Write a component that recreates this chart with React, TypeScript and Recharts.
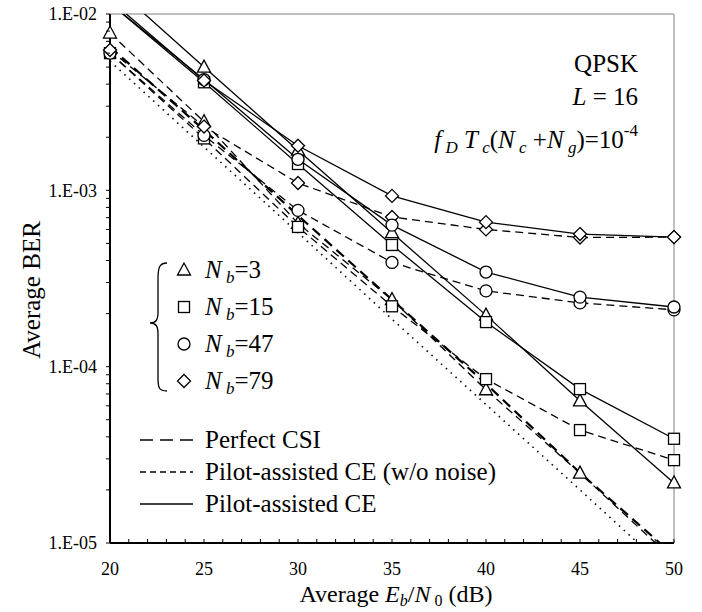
import React from "react";
import { LineChart, Line, XAxis, YAxis, ReferenceLine } from "recharts";

// Eb/N0 points (dB)
const ebN0 = [20, 25, 30, 35, 40, 45, 50];

// unmarked reference curves
const perfectCsi = [6.5e-3, 2.2e-3, 7.2e-4, 2.4e-4, 8.0e-5, 2.5e-5, 8.5e-6];
const perfectCsiLow = [5.4e-3, 1.76e-3, 5.75e-4, 1.86e-4, 6.1e-5, 2.0e-5, 6.5e-6];

// pilot-assisted CE (w/o noise), dashed with markers
const noNoiseNb3 = [7.8e-3, 2.45e-3, 6.5e-4, 2.4e-4, 7.4e-5, 2.49e-5, 8.0e-6];
const noNoiseNb15 = [6.0e-3, 1.97e-3, 6.2e-4, 2.2e-4, 8.5e-5, 4.37e-5, 2.95e-5];
const noNoiseNb47 = [6.0e-3, 2.05e-3, 7.7e-4, 3.9e-4, 2.69e-4, 2.3e-4, 2.1e-4];
const noNoiseNb79 = [6.25e-3, 2.3e-3, 1.1e-3, 7.06e-4, 6.0e-4, 5.4e-4, 5.43e-4];

// pilot-assisted CE, solid with markers
const ceNb3 = [1.5e-2, 5.0e-3, 1.69e-3, 5.75e-4, 1.96e-4, 6.4e-5, 2.19e-5];
const ceNb15 = [1.15e-2, 4.1e-3, 1.41e-3, 4.9e-4, 1.79e-4, 7.46e-5, 3.9e-5];
const ceNb47 = [1.15e-2, 4.25e-3, 1.5e-3, 6.35e-4, 3.44e-4, 2.48e-4, 2.18e-4];
const ceNb79 = [1.2e-2, 4.2e-3, 1.79e-3, 9.3e-4, 6.6e-4, 5.65e-4, 5.43e-4];

// ticks
const xTicks = [20, 21, 22, 23, 24, 25, 26, 27, 28, 29, 30, 31, 32, 33, 34, 35, 36, 37, 38, 39, 40, 41, 42, 43, 44, 45, 46, 47, 48, 49, 50];
const xMajorTicks = [20, 25, 30, 35, 40, 45, 50];
const xTickLabels = ["20", "25", "30", "35", "40", "45", "50"];
const yDecades = [1e-5, 1e-4, 1e-3, 1e-2];
const yDecadeLabels = ["1.E-05", "1.E-04", "1.E-03", "1.E-02"];
const yMinorSteps = [2, 3, 4, 5, 6, 7, 8, 9];

const yTicks: number[] = [];
yDecades.forEach((d, i) => {
  yTicks.push(d);
  if (i < yDecades.length - 1) yMinorSteps.forEach((m) => yTicks.push(d * m));
});

const data = ebN0.map((x, i) => ({
  x,
  perfect: perfectCsi[i],
  perfectLow: perfectCsiLow[i],
  nn3: noNoiseNb3[i],
  nn15: noNoiseNb15[i],
  nn47: noNoiseNb47[i],
  nn79: noNoiseNb79[i],
  ce3: ceNb3[i],
  ce15: ceNb15[i],
  ce47: ceNb47[i],
  ce79: ceNb79[i],
}));

const FONT = "'Liberation Serif', 'Times New Roman', Tinos, 'DejaVu Serif', serif";
const txt = { fontFamily: FONT, fill: "#000" } as React.CSSProperties;
const SW = 1.3;

type Shape = "triangle" | "square" | "circle" | "diamond";

const Marker = ({ shape, cx, cy }: { shape: Shape; cx: number; cy: number }) => {
  const p = { fill: "#fff", stroke: "#000", strokeWidth: SW };
  switch (shape) {
    case "triangle":
      return <polygon {...p} points={`${cx},${cy - 7} ${cx - 6.5},${cy + 5} ${cx + 6.5},${cy + 5}`} />;
    case "square":
      return <rect {...p} x={cx - 5.5} y={cy - 5.5} width={11} height={11} />;
    case "circle":
      return <circle {...p} cx={cx} cy={cy} r={6} />;
    default:
      return <polygon {...p} points={`${cx},${cy - 6.5} ${cx + 6.5},${cy} ${cx},${cy + 6.5} ${cx - 6.5},${cy}`} />;
  }
};

const markerDot = (shape: Shape) => (props: any) => {
  const { cx, cy, value, index } = props;
  const key = `${shape}-${index}`;
  if (cx == null || cy == null || value > 1.0001e-2 || value < 0.9999e-5) return <g key={key} />;
  return (
    <g key={key}>
      <Marker shape={shape} cx={cx} cy={cy} />
    </g>
  );
};

const XTick = (props: any) => {
  const { x, y, payload } = props;
  const idx = xMajorTicks.indexOf(payload.value);
  return (
    <g>
      <line x1={x} x2={x} y1={y} y2={y - 4} stroke="#000" strokeWidth={1} />
      {idx >= 0 && (
        <text x={x} y={y + 32} textAnchor="middle" fontSize={18} style={txt}>
          {xTickLabels[idx]}
        </text>
      )}
    </g>
  );
};

const YTick = (props: any) => {
  const { x, y, payload } = props;
  const idx = yDecades.findIndex((d) => Math.abs(d - payload.value) / d < 1e-6);
  return (
    <g>
      <line x1={x - 4} x2={x} y1={y} y2={y} stroke="#000" strokeWidth={1} />
      {idx >= 0 && (
        <text x={x - 13} y={y} dy="0.35em" textAnchor="end" fontSize={18} style={txt}>
          {yDecadeLabels[idx]}
        </text>
      )}
    </g>
  );
};

const Nb = ({ x, y, n }: { x: number; y: number; n: string }) => (
  <text x={x} y={y} fontSize={25} style={txt}>
    <tspan fontStyle="italic">N</tspan>
    <tspan fontStyle="italic" fontSize={17} dy={5}> b</tspan>
    <tspan dy={-5}>={n}</tspan>
  </text>
);

const nbLegend: { shape: Shape; n: string }[] = [
  { shape: "triangle", n: "3" },
  { shape: "square", n: "15" },
  { shape: "circle", n: "47" },
  { shape: "diamond", n: "79" },
];
const lineLegend = [
  { label: "Perfect CSI", dash: "13 7", width: 1.6 },
  { label: "Pilot-assisted CE (w/o noise)", dash: "6 4", width: 1.3 },
  { label: "Pilot-assisted CE", dash: undefined, width: 1.3 },
];

const Overlay = () => (
  <svg width={702} height={612} style={{ position: "absolute", left: 0, top: 0, pointerEvents: "none" }}>
    {/* annotations */}
    <text x={638} y={72} textAnchor="end" fontSize={25} style={txt}>QPSK</text>
    <text x={638} y={105} textAnchor="end" fontSize={25} style={txt}>
      <tspan fontStyle="italic">L</tspan> = 16
    </text>
    <text x={638} y={148} textAnchor="end" fontSize={25} style={txt}>
      <tspan fontStyle="italic">f</tspan>
      <tspan fontStyle="italic" fontSize={17} dy={5}> D</tspan>
      <tspan fontStyle="italic" dy={-5}> T</tspan>
      <tspan fontStyle="italic" fontSize={17} dy={5}> c</tspan>
      <tspan dy={-5}>(</tspan>
      <tspan fontStyle="italic">N</tspan>
      <tspan fontStyle="italic" fontSize={17} dy={5}> c</tspan>
      <tspan dy={-5}> +</tspan>
      <tspan fontStyle="italic">N</tspan>
      <tspan fontStyle="italic" fontSize={17} dy={5}> g</tspan>
      <tspan dy={-5}>)=10</tspan>
      <tspan fontSize={17} dy={-12}>-4</tspan>
    </text>

    {/* marker legend with brace */}
    <path
      d="M167,263 C159,263 158,268 158,280 L158,312 C158,320 156,323 150,323 C156,323 158,326 158,334 L158,378 C158,388 159,391 167,391"
      fill="none"
      stroke="#000"
      strokeWidth={1.3}
    />
    {nbLegend.map((item, i) => (
      <g key={item.n}>
        <Marker shape={item.shape} cx={184} cy={270 + i * 37} />
        <Nb x={205} y={278 + i * 37} n={item.n} />
      </g>
    ))}

    {/* line-style legend */}
    {lineLegend.map((item, i) => (
      <g key={item.label}>
        <line x1={140} x2={193} y1={440 + i * 32} y2={440 + i * 32} stroke="#000" strokeWidth={item.width} strokeDasharray={item.dash} />
        <text x={205} y={448 + i * 32} fontSize={25} style={txt}>{item.label}</text>
      </g>
    ))}

    {/* axis titles */}
    <text x={396} y={602} textAnchor="middle" fontSize={24} style={txt}>
      Average <tspan fontStyle="italic">E</tspan>
      <tspan fontStyle="italic" fontSize={16} dy={4}>b</tspan>
      <tspan dy={-4}>/</tspan>
      <tspan fontStyle="italic">N</tspan>
      <tspan fontSize={16} dy={4}> 0</tspan>
      <tspan dy={-4}> (dB)</tspan>
    </text>
    <text x={0} y={0} transform="translate(40,290) rotate(-90)" textAnchor="middle" fontSize={25} style={txt}>
      Average BER
    </text>
  </svg>
);

export default function App() {
  return (
    <div style={{ position: "absolute", left: 0, top: 0, width: 702, height: 612, background: "#fff" }}>
      <LineChart width={702} height={612} data={data} margin={{ top: 14, right: 28, bottom: 0, left: 0 }}>
        <XAxis
          dataKey="x"
          type="number"
          domain={[20, 50]}
          ticks={xTicks}
          interval={0}
          height={69}
          tickSize={0}
          tickMargin={0}
          tickLine={false}
          tick={<XTick />}
          axisLine={{ stroke: "#000", strokeWidth: 2 }}
        />
        <YAxis
          type="number"
          scale="log"
          domain={[1e-5, 1e-2]}
          allowDataOverflow
          ticks={yTicks}
          interval={0}
          width={110}
          tickSize={0}
          tickMargin={0}
          tickLine={false}
          tick={<YTick />}
          axisLine={{ stroke: "#000", strokeWidth: 2 }}
        />
        <ReferenceLine y={1e-2} stroke="#808080" strokeWidth={1} />
        <ReferenceLine x={50} stroke="#808080" strokeWidth={1} />

        <Line dataKey="perfectLow" stroke="#000" strokeWidth={1.6} strokeDasharray="1.5 5" dot={false} isAnimationActive={false} />
        <Line dataKey="perfect" stroke="#000" strokeWidth={2.2} strokeDasharray="10 6" dot={false} isAnimationActive={false} />

        <Line dataKey="nn3" stroke="#000" strokeWidth={SW} strokeDasharray="8 5" dot={markerDot("triangle")} isAnimationActive={false} />
        <Line dataKey="nn15" stroke="#000" strokeWidth={SW} strokeDasharray="8 5" dot={markerDot("square")} isAnimationActive={false} />
        <Line dataKey="nn47" stroke="#000" strokeWidth={SW} strokeDasharray="8 5" dot={markerDot("circle")} isAnimationActive={false} />
        <Line dataKey="nn79" stroke="#000" strokeWidth={SW} strokeDasharray="8 5" dot={markerDot("diamond")} isAnimationActive={false} />

        <Line dataKey="ce3" stroke="#000" strokeWidth={SW} dot={markerDot("triangle")} isAnimationActive={false} />
        <Line dataKey="ce15" stroke="#000" strokeWidth={SW} dot={markerDot("square")} isAnimationActive={false} />
        <Line dataKey="ce47" stroke="#000" strokeWidth={SW} dot={markerDot("circle")} isAnimationActive={false} />
        <Line dataKey="ce79" stroke="#000" strokeWidth={SW} dot={markerDot("diamond")} isAnimationActive={false} />
      </LineChart>
      <Overlay />
    </div>
  );
}
